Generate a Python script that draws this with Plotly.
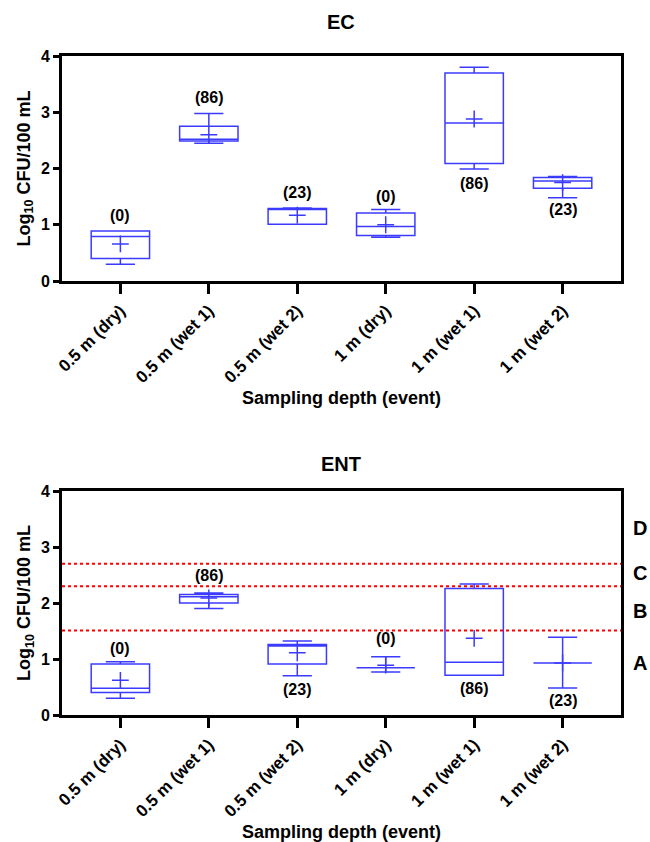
import plotly.graph_objects as go

categories = ["0.5 m (dry)", "0.5 m (wet 1)", "0.5 m (wet 2)", "1 m (dry)", "1 m (wet 1)", "1 m (wet 2)"]

# EC panel statistics (log10 CFU/100 mL)
ec_min = [0.30, 2.45, 1.01, 0.78, 1.99, 1.48]
ec_q1 = [0.40, 2.49, 1.01, 0.81, 2.09, 1.65]
ec_median = [0.79, 2.52, 1.29, 0.97, 2.81, 1.78]
ec_q3 = [0.89, 2.75, 1.29, 1.21, 3.70, 1.84]
ec_max = [0.89, 2.98, 1.30, 1.27, 3.80, 1.86]
ec_mean = [0.66, 2.60, 1.17, 1.00, 2.88, 1.75]
ec_labels = ["(0)", "(86)", "(23)", "(0)", "(86)", "(23)"]
ec_label_y = [1.17, 3.27, 1.57, 1.51, 1.74, 1.27]

# ENT panel statistics
ent_min = [0.30, 1.90, 0.70, 0.77, 0.71, 0.48]
ent_q1 = [0.40, 2.00, 0.91, 0.845, 0.71, 0.93]
ent_median = [0.477, 2.11, 1.23, 0.845, 0.94, 0.93]
ent_q3 = [0.91, 2.15, 1.26, 0.845, 2.26, 0.93]
ent_max = [0.95, 2.18, 1.32, 1.04, 2.34, 1.39]
ent_mean = [0.62, 2.09, 1.11, 0.89, 1.37, 0.93]
ent_labels = ["(0)", "(86)", "(23)", "(0)", "(86)", "(23)"]
ent_label_y = [1.19, 2.50, 0.46, 1.37, 0.48, 0.255]

thresholds = [2.70, 2.30, 1.51]
class_letters = ["D", "C", "B", "A"]
class_letter_y = [3.34, 2.54, 1.85, 0.93]

BLUE = "#3b3bff"
FONT = "Liberation Sans"

fig = go.Figure()

def add_panel(xa, ya, q1, med, q3, lo, hi, mean):
    fig.add_trace(go.Box(
        x=categories, q1=q1, median=med, q3=q3, lowerfence=lo, upperfence=hi,
        xaxis=xa, yaxis=ya, width=0.66, whiskerwidth=0.5,
        line=dict(color=BLUE, width=1.5), fillcolor="rgba(0,0,0,0)",
        boxpoints=False, showlegend=False, hoverinfo="skip"))
    fig.add_trace(go.Scatter(
        x=categories, y=mean, xaxis=xa, yaxis=ya, mode="markers",
        marker=dict(symbol="cross-thin", size=12, line=dict(color=BLUE, width=1.5)),
        showlegend=False, hoverinfo="skip"))

add_panel("x", "y", ec_q1, ec_median, ec_q3, ec_min, ec_max, ec_mean)
add_panel("x2", "y2", ent_q1, ent_median, ent_q3, ent_min, ent_max, ent_mean)

W, H = 650, 842

def px(x):
    return x / W

def py(y):
    return 1 - y / H

xdom = [px(62), px(621)]
ydom1 = [py(281), py(56)]
ydom2 = [py(715), py(491)]

axis_common = dict(showline=True, linewidth=3, linecolor="black", mirror=True,
                   showgrid=False, zeroline=False, ticks="outside", tickwidth=3,
                   tickcolor="black", automargin=False)
xcommon = dict(axis_common, type="category", categoryorder="array", categoryarray=categories,
               range=[-0.66, 5.66], ticklen=10, tickangle=-45,
               tickfont=dict(family=FONT, size=17, color="black", weight="bold"))
ycommon = dict(axis_common, range=[0, 4], tickvals=[0, 1, 2, 3, 4], ticklen=6,
               tickfont=dict(family=FONT, size=16, color="black", weight="bold"))

fig.update_layout(
    width=W, height=H, margin=dict(l=0, r=0, t=0, b=0, autoexpand=False),
    plot_bgcolor="white", paper_bgcolor="white",
    xaxis=dict(xcommon, domain=xdom, anchor="y"),
    yaxis=dict(ycommon, domain=ydom1, anchor="x"),
    xaxis2=dict(xcommon, domain=xdom, anchor="y2"),
    yaxis2=dict(ycommon, domain=ydom2, anchor="x2"),
)

ann = []
bold = dict(family=FONT, color="black", weight="bold")
mid = dict(showarrow=False, xanchor="center", yanchor="middle")
for c, t, y in zip(categories, ec_labels, ec_label_y):
    ann.append(dict(mid, x=c, y=y, xref="x", yref="y", text=t, font=dict(bold, size=16)))
for c, t, y in zip(categories, ent_labels, ent_label_y):
    ann.append(dict(mid, x=c, y=y, xref="x2", yref="y2", text=t, font=dict(bold, size=16)))
for t, y in zip(class_letters, class_letter_y):
    ann.append(dict(mid, x=px(640), y=y, xref="paper", yref="y2", text=t, font=dict(bold, size=20)))
# titles
ann.append(dict(mid, x=px(341.5), y=py(22), xref="paper", yref="paper", text="EC", font=dict(bold, size=20)))
ann.append(dict(mid, x=px(341.5), y=py(464), xref="paper", yref="paper", text="ENT", font=dict(bold, size=20)))
for yc in [398, 832]:
    ann.append(dict(mid, x=px(341.5), y=py(yc), xref="paper", yref="paper",
                    text="Sampling depth (event)", font=dict(bold, size=18)))
for yc in [168.5, 603]:
    ann.append(dict(mid, x=px(25), y=py(yc), xref="paper", yref="paper", textangle=-90,
                    text="Log<sub>10</sub> CFU/100 mL", font=dict(bold, size=18)))
fig.update_layout(annotations=ann)

for y in thresholds:
    fig.add_shape(type="line", xref="x2 domain", yref="y2", x0=0, x1=1, y0=y, y1=y,
                  line=dict(color="red", width=2, dash="dot"))

# remove the default page margin so the 650x842 figure fills the window exactly
fig.write_html("out.html", config={"displayModeBar": False},
               post_script="document.body.style.margin='0';document.body.style.overflow='hidden';")
